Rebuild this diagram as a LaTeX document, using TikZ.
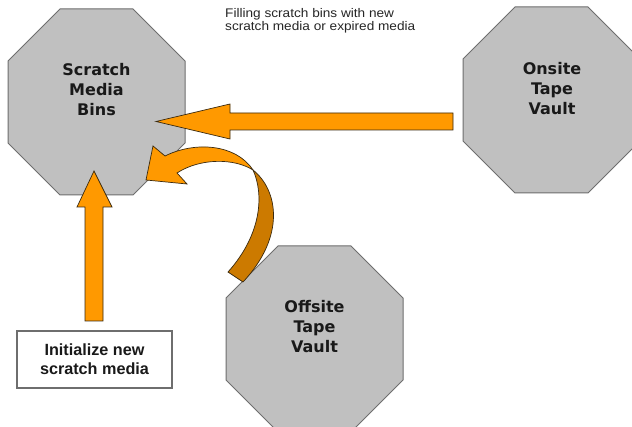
\documentclass[tikz,border=0pt]{standalone}
\usepackage{fontspec}
\setmainfont{Liberation Sans}
\newfontfamily\octfont{DejaVu Sans}
\newfontfamily\notefont[FakeStretch=1.09]{Liberation Sans}
\definecolor{octfill}{HTML}{C0C0C0}
\definecolor{octline}{HTML}{6E6E6E}
\definecolor{arrowfill}{HTML}{FF9900}
\definecolor{arrowdark}{HTML}{CC7A00}
\definecolor{arrowline}{HTML}{3A2A10}
\newcommand{\myoct}[2]{%
  \filldraw[octshape] ({#1-36.5},{#2-93}) -- ({#1+36.5},{#2-93}) -- ({#1+88.5},{#2-41}) --
    ({#1+88.5},{#2+41}) -- ({#1+36.5},{#2+93}) -- ({#1-36.5},{#2+93}) --
    ({#1-88.5},{#2+41}) -- ({#1-88.5},{#2-41}) -- cycle;}
\tikzset{
  octshape/.style={fill=octfill, draw=octline, line width=1pt},
  octlabel/.style={font=\octfont\bfseries\fontsize{16}{20}\selectfont, align=center, text=black!90},
  blockarrow/.style={fill=arrowfill, draw=arrowline, line width=0.7pt, line join=miter},
  blockdark/.style={fill=arrowdark, draw=arrowline, line width=0.7pt},
  taskbox/.style={draw=octline, fill=white, line width=1.2pt, minimum width=155pt, minimum height=57pt,
     font=\bfseries\fontsize{16.2}{19}\selectfont, align=center, text=black!90, inner sep=0pt},
  note/.style={font=\notefont\fontsize{12.5}{12.5}\selectfont, align=left, text=black!85, inner sep=0pt}
}
\begin{document}
\begin{tikzpicture}[x=1pt,y=-1pt]
\useasboundingbox (0,0) rectangle (632,427);
\clip (0,0) rectangle (632,427);
\fill[white] (0,0) rectangle (632,427);
% octagons
\myoct{96.5}{102}
\myoct{551.5}{100}
\myoct{314.5}{339}
\node[octlabel] (scratch) at (96.5,90) {Scratch\\Media\\Bins};
\node[octlabel] (onsite) at (552,89) {Onsite\\Tape\\Vault};
\node[octlabel] (offsite) at (314.5,327) {Offsite\\Tape\\Vault};
% task box
\node[taskbox] (init) at (94.5,359.5) {Initialize new\\scratch media};
% note
\node[note, anchor=west] (note) at (225,21) {Filling scratch bins with new\\scratch media or expired media};
% horizontal block arrow
\filldraw[blockarrow] (453,113) -- (230,113) -- (230,104) -- (156,121.5) -- (230,139) -- (230,130) -- (453,130) -- cycle;
% vertical block arrow
\filldraw[blockarrow] (85,321) -- (85,207) -- (77,207) -- (94,171) -- (112,207) -- (103,207) -- (103,321) -- cycle;
% curved arrow: dark back band
\filldraw[blockdark] (253,170) .. controls (278,190) and (286,236) .. (243,282) -- (228,272)
   .. controls (262,234) and (264,194) .. (253,170) -- cycle;
% curved arrow: light front band with head
\filldraw[blockarrow] (146,180) -- (153,146) -- (165,156) .. controls (195,141) and (236,144) .. (253,170)
   .. controls (234,158) and (200,158) .. (177,173) -- (187,184) -- cycle;
\end{tikzpicture}
\end{document}
